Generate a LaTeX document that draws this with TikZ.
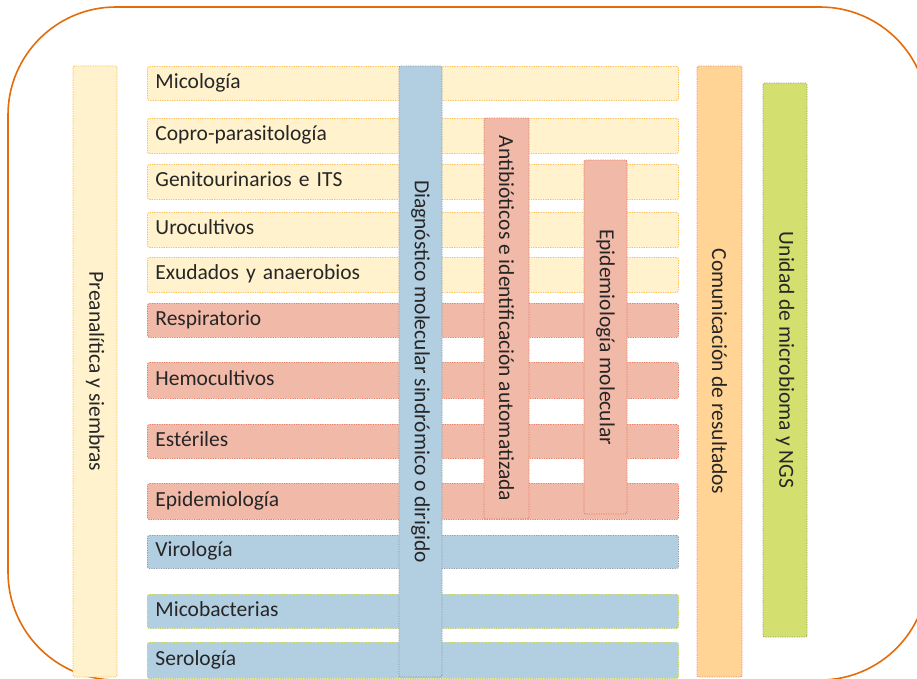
\documentclass[tikz,border=0pt]{standalone}
\usepackage{fontspec}
\setmainfont{Carlito}
\definecolor{yfill}{HTML}{FFF2CC}
\definecolor{yline}{HTML}{F9BE4F}
\definecolor{sfill}{HTML}{F1B9A7}
\definecolor{sline}{HTML}{E97A60}
\definecolor{bfill}{HTML}{B2CEE1}
\definecolor{gline}{HTML}{8E9AA6}
\definecolor{grline}{HTML}{BCCF5A}
\definecolor{cfill}{HTML}{FFD494}
\definecolor{cline}{HTML}{EE8C78}
\definecolor{nfill}{HTML}{D3E06F}
\definecolor{nline}{HTML}{99A46B}
\definecolor{frame}{HTML}{E46C0A}
\tikzset{
  dots/.style={line width=0.9pt, dash pattern=on 1.2pt off 1.2pt, rounded corners=2pt},
  rowbox/.style={dots, anchor=north west, minimum height=#1, text width=515pt,
    inner xsep=8pt, inner ysep=0pt, align=left, text height=14pt, text depth=4pt,
    font=\fontsize{21.5}{24}\selectfont, text=black!85},
  colbox/.style={dots, rotate=-90, align=center, inner sep=0pt,
    font=\fontsize{21.5}{24}\selectfont, text=black!85},
  yrow/.style={fill=yfill, draw=yline},
  srow/.style={fill=sfill, draw=sline},
  brow/.style={fill=bfill, draw=gline},
  bgrow/.style={fill=bfill, draw=grline},
}
\begin{document}
\begin{tikzpicture}[x=1pt,y=-1pt]
\useasboundingbox (0,0) rectangle (917,678);
\clip (0,0) rectangle (917,678);
\fill[white] (0,0) rectangle (917,678);
% outer frame
\draw[frame, line width=1.6pt, rounded corners=108pt] (8,7) rectangle (928,680);
% left column
\node[colbox, fill=yfill, draw=yline, minimum width=611pt, minimum height=44pt] (pre) at (95,371.5) {Preanalítica y siembras};
% rows
\node[rowbox=34pt, yrow] (mic) at (147,66) {Micología};
\node[rowbox=35pt, yrow] (cop) at (147,118) {Copro-parasitología};
\node[rowbox=35pt, yrow] (gen) at (147,164) {Genitourinarios e ITS};
\node[rowbox=35pt, yrow] (uro) at (147,212) {Urocultivos};
\node[rowbox=35pt, yrow] (exu) at (147,257) {Exudados y anaerobios};
\node[rowbox=34pt, srow] (res) at (147,303) {Respiratorio};
\node[rowbox=36pt, srow] (hem) at (147,362) {Hemocultivos};
\node[rowbox=34pt, srow] (est) at (147,424) {Estériles};
\node[rowbox=36pt, srow] (epi) at (147,483) {Epidemiología};
\node[rowbox=33pt, brow] (vir) at (147,535) {Virología};
\node[rowbox=34pt, bgrow] (mcb) at (147,594) {Micobacterias};
\node[rowbox=36pt, bgrow] (ser) at (147,642) {Serología};
% vertical overlays
\node[colbox, fill=bfill, draw=gline, minimum width=611pt, minimum height=43pt] (dia) at (420.5,371.5) {Diagnóstico molecular sindrómico o dirigido};
\node[colbox, fill=sfill, draw=sline, minimum width=401pt, minimum height=45pt] (ant) at (506.5,318.5) {Antibióticos e identificación automatizada};
\node[colbox, fill=sfill, draw=sline, minimum width=354pt, minimum height=43pt] (epm) at (605.5,337) {Epidemiología molecular};
\node[colbox, fill=cfill, draw=cline, minimum width=611pt, minimum height=45pt] (com) at (719.5,371.5) {Comunicación de resultados};
\node[colbox, fill=nfill, draw=nline, minimum width=554pt, minimum height=44pt] (ngs) at (785,360) {Unidad de microbioma y NGS};
\end{tikzpicture}
\end{document}
